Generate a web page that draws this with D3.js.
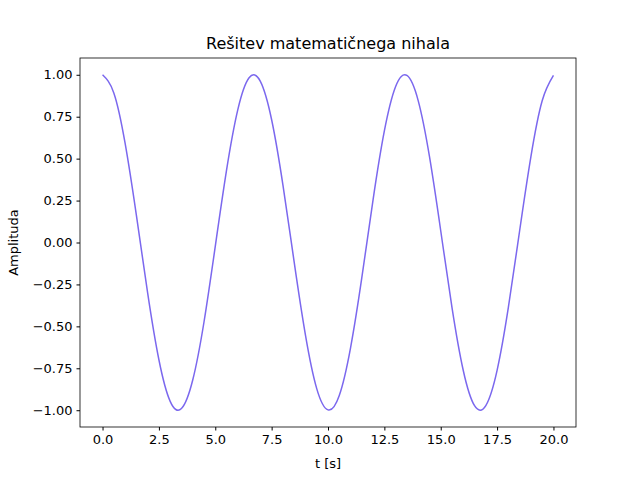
<!DOCTYPE html>
<html><head><meta charset="utf-8">
<script src="https://cdn.jsdelivr.net/npm/d3@7"></script>
<style>body{margin:0;background:#fff;font-family:"DejaVu Sans",sans-serif}</style>
</head><body><svg id="c" width="640" height="480"></svg>
<script>
// values, every 0.5 s
const times = d3.range(0, 20.01, 0.5);
const amplitude = [1, 0.892, 0.592, 0.163, -0.300, -0.699, -0.947, -0.990, -0.820, -0.474,
  -0.023, 0.431, 0.792, 0.982, 0.961, 0.732, 0.344, -0.117, -0.552, -0.871,
  -0.998, -0.912, -0.628, -0.210, 0.256, 0.665, 0.930, 0.996, 0.846, 0.513,
  0.070, -0.388, -0.763, -0.973, -0.972, -0.762, -0.387, 0.070, 0.512, 0.845, 0.996];
const xTicks = [0, 2.5, 5, 7.5, 10, 12.5, 15, 17.5, 20];
const yTicks = [-1, -0.75, -0.5, -0.25, 0, 0.25, 0.5, 0.75, 1];

const svg = d3.select("#c");
const L = 80, R = 576, T = 58, B = 427;
const x = d3.scaleLinear().domain([-1, 21]).range([L, R]);
const y = d3.scaleLinear().domain([-1.1, 1.1]).range([B, T]);

svg.append("g").attr("transform", `translate(0,${B})`)
  .call(d3.axisBottom(x).tickValues(xTicks).tickFormat(d3.format(".1f")).tickSizeOuter(0).tickSize(3.5).tickPadding(4))
  .call(g => g.selectAll("text").attr("font-size", 13).attr("font-family", "DejaVu Sans").attr("fill", "#000"));
svg.append("g").attr("transform", `translate(${L},0)`)
  .call(d3.axisLeft(y).tickValues(yTicks).tickFormat(d3.format(".2f")).tickSizeOuter(0).tickSize(3.5).tickPadding(4))
  .call(g => g.selectAll("text").attr("font-size", 13).attr("font-family", "DejaVu Sans").attr("fill", "#000"));
svg.selectAll(".domain").remove();
svg.append("rect").attr("x", L).attr("y", T).attr("width", R - L).attr("height", B - T)
  .attr("fill", "none").attr("stroke", "#000").attr("stroke-width", 0.8);

svg.append("path").datum(times.map((t, i) => [t, amplitude[i]]))
  .attr("fill", "none").attr("stroke", "#7b68ee").attr("stroke-width", 1.5)
  .attr("d", d3.line().x(d => x(d[0])).y(d => y(d[1])).curve(d3.curveNatural));

svg.append("text").attr("x", (L + R) / 2).attr("y", 49).attr("text-anchor", "middle")
  .attr("font-size", 16).text("Rešitev matematičnega nihala");
svg.append("text").attr("x", (L + R) / 2).attr("y", 468).attr("text-anchor", "middle")
  .attr("font-size", 13).text("t [s]");
svg.append("text").attr("transform", `translate(18,${(T + B) / 2}) rotate(-90)`).attr("text-anchor", "middle")
  .attr("font-size", 13).text("Amplituda");
</script></body></html>
